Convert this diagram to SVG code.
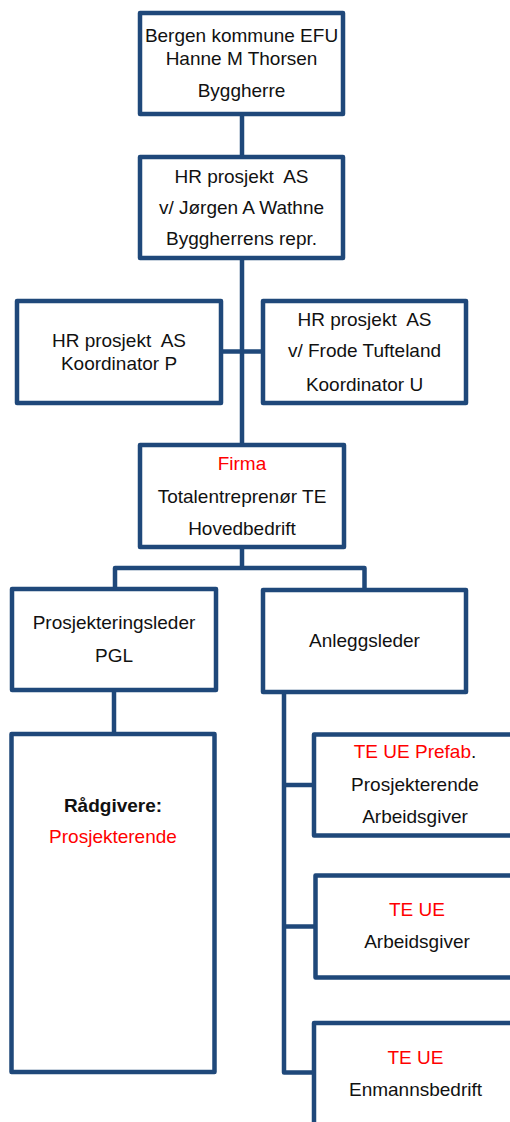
<svg xmlns="http://www.w3.org/2000/svg" width="510" height="1122" viewBox="0 0 510 1122">
<style>
.box{fill:#fff;stroke:#1F487A;stroke-width:4.5;stroke-linejoin:round}
.ln{fill:none;stroke:#1F487A;stroke-width:4.5;stroke-linejoin:round}
text{font-family:"Liberation Sans",Arial,sans-serif;font-size:19px;fill:#111;text-anchor:middle}
.red{fill:#FF0000}
.b{font-weight:bold}
</style>
<rect width="510" height="1122" fill="#fff"/>
<g id="connectors">
<path class="ln" d="M242 116 V155"/>
<path class="ln" d="M242 260 V443"/>
<path class="ln" d="M222 351.5 H261"/>
<path class="ln" d="M242 549 V568"/>
<path class="ln" d="M115 587 V568 H364.5 V588"/>
<path class="ln" d="M114 692 V732"/>
<path class="ln" d="M284 694 V1072.5 H313"/>
<path class="ln" d="M284 785 H313"/>
<path class="ln" d="M284 926.5 H314"/>
</g>
<g id="byggherre">
<rect class="box" x="140" y="13" width="203" height="101"/>
<text x="241.5" y="42">Bergen kommune EFU</text>
<text x="241.5" y="65">Hanne M Thorsen</text>
<text x="241.5" y="97">Byggherre</text>
</g>
<g id="byggherrens-repr">
<rect class="box" x="140" y="157" width="203" height="101"/>
<text x="241.5" y="183" xml:space="preserve">HR prosjekt  AS</text>
<text x="241.5" y="214">v/ Jørgen A Wathne</text>
<text x="241.5" y="245">Byggherrens repr.</text>
</g>
<g id="koordinator-p">
<rect class="box" x="17" y="301" width="204" height="102"/>
<text x="119" y="347" xml:space="preserve">HR prosjekt  AS</text>
<text x="119" y="370">Koordinator P</text>
</g>
<g id="koordinator-u">
<rect class="box" x="263" y="301" width="203" height="102"/>
<text x="364.5" y="326" xml:space="preserve">HR prosjekt  AS</text>
<text x="364.5" y="357">v/ Frode Tufteland</text>
<text x="364.5" y="391">Koordinator U</text>
</g>
<g id="firma">
<rect class="box" x="140" y="445" width="204" height="102"/>
<text x="242" y="470" class="red">Firma</text>
<text x="242" y="503">Totalentreprenør TE</text>
<text x="242" y="535">Hovedbedrift</text>
</g>
<g id="pgl">
<rect class="box" x="12" y="589" width="204" height="101"/>
<text x="114" y="629">Prosjekteringsleder</text>
<text x="114" y="662">PGL</text>
</g>
<g id="anleggsleder">
<rect class="box" x="263" y="590" width="203" height="102"/>
<text x="364.5" y="647">Anleggsleder</text>
</g>
<g id="radgivere">
<rect class="box" x="11.5" y="734" width="203" height="338"/>
<text x="113" y="812" class="b">Rådgivere:</text>
<text x="113" y="843" class="red">Prosjekterende</text>
</g>
<g id="te-ue-prefab">
<rect class="box" x="314" y="734.5" width="204" height="101"/>
<text x="415" y="758"><tspan class="red">TE UE Prefab</tspan>.</text>
<text x="415" y="791">Prosjekterende</text>
<text x="415" y="823">Arbeidsgiver</text>
</g>
<g id="te-ue-arbeidsgiver">
<rect class="box" x="315.5" y="875.5" width="204" height="102"/>
<text x="417" y="916" class="red">TE UE</text>
<text x="417" y="948">Arbeidsgiver</text>
</g>
<g id="te-ue-enmann">
<rect class="box" x="314" y="1023" width="204" height="130"/>
<text x="415.5" y="1064" class="red">TE UE</text>
<text x="415.5" y="1096">Enmannsbedrift</text>
</g>
</svg>
